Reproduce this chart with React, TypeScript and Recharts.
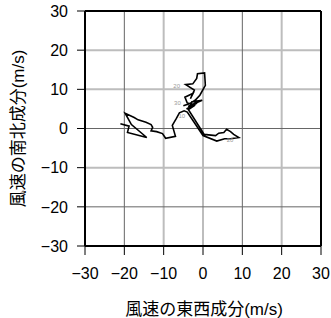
import { ReferenceLine, Scatter, ScatterChart, XAxis, YAxis } from "recharts"

// hodograph: east-west (u) and north-south (v) wind components, m/s
const uWind = [
  -21.0, -18.8, -19.2, -14.3, -18.2, -19.8, -17.5, -16.5, -14.5, -13.2, -12.8, -13.2, -11.8, -10.3,
  -9.5, -7.0, -7.8, -6.8, -6.0, -4.8, -4.0, 0.0, 3.5, 5.5, 7.0, 9.1, 7.8, 7.0, 6.0, 5.3, 4.0, 3.2,
  0.3, -3.7, -2.0, -4.2, -1.5, -3.8, -0.8, -3.0, -0.2, -2.5, -4.0, -4.6, -2.5, -3.2, -2.2, -4.4,
  -2.6, -1.6, -1.4, 0.4, 0.6, -0.8, -2.0, -3.5, -5.0,
]
const vWind = [
  1.2, 0.6, -1.0, -2.3, 1.0, 3.9, 2.8, 2.2, 1.6, 1.0, 0.3, -0.6, -0.8, -1.3,
  -2.5, -2.0, 0.8, 2.5, 4.0, 4.5, 4.2, -1.8, -3.2, -2.6, -2.6, -2.3, -1.5, -0.8, -0.2, -1.0, -1.2, -1.8,
  -1.5, 4.8, 6.0, 5.0, 6.5, 5.6, 7.0, 6.8, 7.2, 6.2, 6.5, 8.0, 9.0, 7.6, 9.8, 11.2,
  11.4, 12.8, 14.0, 14.2, 11.0, 8.5, 7.2, 6.3, 5.8,
]

// small height marks along the trace
const markText = ["20", "30", "10", "20"]
const markU = [-6.7, -6.5, -5.4, 6.9]
const markV = [10.9, 6.6, 3.2, -3.0]

const axisTicks = [-30, -20, -10, 0, 10, 20, 30]
const darkX = [-20, 10]
const lightX = [-10, 0, 20]
const darkY = [0, -20]
const lightY = [20, 10, -10]

const FONT = '"Liberation Sans", "Noto Sans CJK JP", Arial, sans-serif'

const trace = uWind.map((u, i) => ({ u, v: vWind[i] }))
const marks = markText.map((t, i) => ({ u: markU[i], v: markV[i], t }))

const fmt = (v: number) => (v < 0 ? `\u2212${-v}` : `${v}`)

function YTitle() {
  return (
    <text
      x={18}
      y={128.5}
      transform="rotate(-90 18 128.5)"
      textAnchor="middle"
      dominantBaseline="central"
      fontSize={17}
      fontFamily={FONT}
      fill="#000"
    >
      風速の南北成分(m/s)
    </text>
  )
}

function XTitle() {
  return (
    <text x={204} y={309} textAnchor="middle" dominantBaseline="central" fontSize={17} fontFamily={FONT} fill="#000">
      風速の東西成分(m/s)
    </text>
  )
}

export default function App() {
  return (
    <div style={{ position: "absolute", left: 0, top: 0, background: "#fff" }}>
      <ScatterChart width={331} height={318} margin={{ top: 11, right: 10, bottom: 0, left: 0 }}>
        <XAxis
          type="number"
          dataKey="u"
          domain={[-30, 30]}
          ticks={axisTicks}
          tickFormatter={fmt}
          allowDataOverflow
          height={72}
          stroke="#000"
          strokeWidth={2}
          tickSize={9}
          tickMargin={13}
          tick={{ fill: "#000", fontSize: 16, fontFamily: FONT }}
          tickLine={{ stroke: "#000", strokeWidth: 1 }}
          label={<XTitle />}
        />
        <YAxis
          type="number"
          dataKey="v"
          domain={[-30, 30]}
          ticks={axisTicks}
          tickFormatter={fmt}
          allowDataOverflow
          width={85}
          stroke="#000"
          strokeWidth={2}
          tickSize={8}
          tickMargin={9}
          tick={{ fill: "#000", fontSize: 16, fontFamily: FONT }}
          tickLine={{ stroke: "#000", strokeWidth: 1 }}
          label={<YTitle />}
        />
        {lightX.map((x) => (
          <ReferenceLine key={`lx${x}`} x={x} stroke="#bdbdbd" strokeWidth={2} />
        ))}
        {lightY.map((y) => (
          <ReferenceLine key={`ly${y}`} y={y} stroke="#bdbdbd" strokeWidth={2} />
        ))}
        {darkX.map((x) => (
          <ReferenceLine key={`dx${x}`} x={x} stroke="#666" strokeWidth={1} />
        ))}
        {darkY.map((y) => (
          <ReferenceLine key={`dy${y}`} y={y} stroke="#666" strokeWidth={1} />
        ))}
        <ReferenceLine x={30} stroke="#000" strokeWidth={2} />
        <ReferenceLine y={30} stroke="#000" strokeWidth={2} />
        <Scatter
          data={trace}
          line={{ stroke: "#000", strokeWidth: 1.6 }}
          lineType="joint"
          shape={() => null}
          isAnimationActive={false}
        />
        <Scatter
          data={marks}
          isAnimationActive={false}
          shape={(p: any) => (
            <text
              x={p.cx}
              y={p.cy}
              textAnchor="middle"
              dominantBaseline="central"
              fontSize={6}
              fontFamily={FONT}
              fill="#999"
            >
              {p.payload.t}
            </text>
          )}
        />
      </ScatterChart>
    </div>
  )
}
